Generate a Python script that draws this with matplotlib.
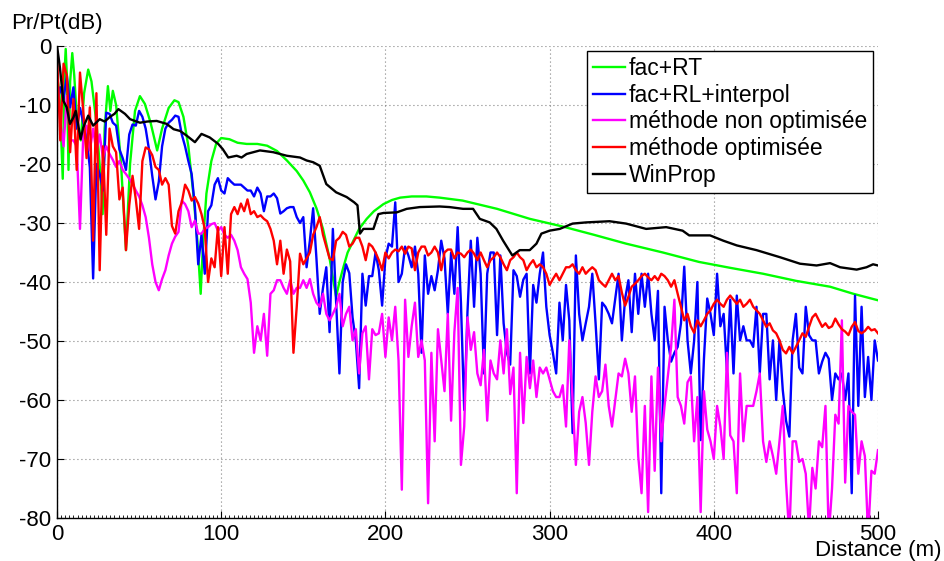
#!/usr/bin/env python3
"""Received power vs distance: comparison of propagation methods."""

import matplotlib
matplotlib.use("Agg")
import matplotlib.pyplot as plt
import numpy as np
from matplotlib.ticker import MultipleLocator

plt.rcParams["font.family"] = ["Liberation Sans", "DejaVu Sans"]
plt.rcParams["axes.unicode_minus"] = False

labels = ["fac+RT", "fac+RL+interpol", "méthode non optimisée",
          "méthode optimisée", "WinProp"]
colors = ["#00ff00", "#0000ff", "#ff00ff", "#ff0000", "#000000"]

# fac+RT (smooth analytic curve), distance in m / level in dB
green_x = [0, 1.5, 3.5, 4.5, 5.3, 6, 7, 8, 9.3, 10.5, 12.5, 14.5, 16.5, 19, 21,
           24, 26.5, 27.8, 29, 31, 32.5, 34, 36, 39, 42, 44.5, 47.5, 50.5, 53.5,
           57, 61, 64, 68, 71.5, 74, 77, 80, 83, 85.5, 87.5, 89, 91, 94, 97,
           100, 105, 110, 115.5, 122, 128, 134, 140, 146, 150, 154, 158, 162,
           166, 170, 172, 174.4, 177, 180.5, 184, 188.6, 193, 198.8, 204, 209,
           216, 225, 233, 247, 268, 288, 308, 327, 346.6, 369, 391, 410, 430,
           450, 470.8, 485, 500]
green_y = [-5, -8, -22.5, -5, -0.5, -5, -21, -6, -1.2, -5, -14, -16, -8, -4, -6,
           -13, -22, -28.5, -14, -6.8, -11, -7.6, -10, -20, -34.6, -20, -11,
           -8.5, -9.8, -13, -17.7, -14, -10.5, -9.2, -9.5, -12, -17, -25, -33,
           -42, -33, -25, -19.5, -16.5, -15.6, -15.8, -16.4, -16.6, -16.6,
           -16.9, -17.8, -19.4, -21.2, -22.8, -24.8, -27.5, -31, -36, -42.5,
           -40, -37.5, -35, -33, -31, -29.3, -28, -26.8, -26.1, -25.7, -25.5,
           -25.5, -25.7, -26.2, -27.6, -29.3, -30.6, -32, -33.5, -35, -36.6,
           -37.6, -38.6, -39.8, -40.8, -42, -43.1]

# WinProp
black_x = [0, 1, 1.8, 3, 3.9, 5.9, 7.9, 10, 11.4, 13, 14.4, 16, 19, 22, 26, 29,
           32.3, 35, 37.4, 41.4, 44.5, 50.5, 55, 60.7, 66.8, 71, 75, 79, 84, 88,
           93, 98.2, 101, 104.3, 109.4, 112.4, 115.5, 123.6, 131.7, 139.9, 148,
           152, 156, 160, 164, 170, 176.4, 181, 183, 184.5, 186.6, 192.7, 195.7,
           198.8, 206.9, 213, 221, 233, 239, 247.3, 253.4, 257.5, 263.5, 267.6,
           271.7, 277.3, 281.8, 287.9, 292, 295, 300, 306.2, 314, 322.2, 336.5,
           346.6, 358.8, 371, 381, 385, 391, 397.7, 405.8, 414, 426, 440.3,
           452.5, 462.6, 470.8, 476.9, 487, 493, 497, 500]
black_y = [0, -2, -3.7, -7, -9.3, -10.4, -13.2, -12.1, -11, -13.5, -15.8, -13.8,
           -11.8, -13.5, -12.4, -12.8, -12, -11.5, -10.7, -11.5, -12.4, -13,
           -12.8, -12.7, -13.2, -14.1, -14.4, -15.2, -16.3, -14.9, -15.5, -16.6,
           -17.5, -18.9, -18.6, -18.9, -18.3, -17.7, -18, -18.6, -18.9, -19.4,
           -19.7, -20.3, -23.4, -24.8, -25.6, -26.5, -27, -31.8, -31, -31,
           -28.5, -28.3, -28.2, -27.6, -27.3, -27.2, -27.3, -27.6, -27.6, -29.3,
           -29.9, -31, -33, -35.5, -34.6, -34.6, -33.5, -31.8, -31.3, -31,
           -30.1, -29.9, -29.7, -30.1, -31, -30.7, -31.3, -32.1, -32.1, -32.1,
           -33, -33.8, -34.6, -35.8, -36.9, -37.2, -36.8, -37.5, -37.9, -37.5,
           -37, -37.2]

# noisy series, one sample every 2 m from 0 to 500 m
blue_y = [
    -10, -7, -9, -5, -10.4, -7, -14, -10.5, -13, -15.5,
    -20.6, -39.4, -20, -21.7, -24.5, -11.3, -11.5, -13, -13.5, -17.5,
    -19, -21, -15, -13.3, -13.5, -11, -12, -14, -17.5, -22,
    -26, -23, -17, -14, -13, -12.5, -11.8, -12,
    -15, -17, -19.5, -21.7, -27.3, -37, -32, -38.6, -28, -27,
    -23.5, -22.4, -24.5, -25, -22.4, -23, -23.5, -23.5, -23.5, -24,
    -24.5, -24.5, -25.5, -24, -25, -28, -25.5, -25.5, -25, -25.8,
    -28.4, -28, -27.5, -27.3, -27.3, -29, -30,
    -29, -37.5, -33, -27.5, -36, -45.4, -41, -37.5, -48.5, -31,
    -43.5, -55.5, -40, -37, -38.5, -46, -50, -58, -38.6, -44,
    -39, -39, -35, -38, -44, -36, -33.5, -34, -26.5, -40,
    -38.6, -34, -35.5, -37.5, -34, -38.6, -52, -35.5, -42, -39,
    -41.4, -38,
    -33, -36, -45.4, -35, -42, -30.7, -43.5, -61.7, -45, -33,
    -44.2, -32.5, -38.6, -55.5, -38.6, -35, -35, -49, -35.5, -47,
    -52, -54, -38, -39, -42.5, -39.6, -38.6, -55.5, -40.5, -43.5,
    -38.6, -35, -44.2, -49, -52, -55.5, -43.5, -49.9, -40.5,
    -46.5, -65.6, -35.5, -45.4, -49.9, -47, -44.2, -38.6, -47, -56.5,
    -43.5, -44.2, -45.4, -47, -42.8, -38.6, -49.9, -42.8, -39.7, -48.5,
    -38.6, -45.4, -38.6, -44.2, -38.6, -45.4, -49.9, -41.5, -75.8, -44.2,
    -49.9, -53.5, -52, -51, -47, -37.4, -49.9, -55.5, -50,
    -40, -66.8, -53, -42.8, -45.4, -49, -38.6, -47.5, -45.4, -55,
    -43, -55.5, -42.3, -49.9, -47.5, -49.9, -49.9, -51, -44.2, -55.5,
    -45.4, -45.4, -56.5, -49.9, -60, -49.9, -58.3, -63.5, -66.2, -49.9,
    -45.4, -54.5, -55.5, -44.2, -49, -49.9, -49.9, -55.5, -53.5, -52,
    -53, -60, -55.5, -56.5, -55.5, -60, -55.5, -75.8, -42.3, -61,
    -44.2, -59.5, -52.7, -60, -49.9, -53.3,
]

magenta_y = [
    -4.8, -12.7, -17, -8.5, -16, -16, -17, -31, -15, -13.5,
    -17.7, -14, -18, -15, -19, -17, -18.3, -19.3, -20.5, -19.5,
    -21, -21.7, -22.5, -23.4, -24.5, -25.5, -27, -29, -32.5, -37,
    -40, -41.4, -39.5, -38, -35.5, -33.5, -32.3, -31.5,
    -26.2, -26.8, -28, -30.7, -29.6, -31.8, -31.8, -31, -30.7, -30.2,
    -30, -31.3, -30.7, -32, -32.5, -32, -33, -34.6, -37.5, -38.6,
    -39.5, -43.5, -52, -47.5, -49.9, -45.4, -52.5, -42, -41.4, -39.7,
    -39.7, -41, -42, -39.7, -42, -41, -41,
    -39.7, -41, -39.5, -42, -43.5, -44.2, -42, -45.4, -46.5, -45.4,
    -44.2, -42, -47.5, -45.4, -44.2, -49.9, -48, -55.5, -48.7, -47.5,
    -56.5, -48, -49, -48.7, -45.4, -52.7, -46, -49.9, -44.2, -53.3,
    -75.2, -43, -52.7, -47.5, -43.5, -52.7, -49.9, -53.3, -77.5, -52,
    -67, -48,
    -53.3, -58.5, -45.4, -63.5, -48.5, -41, -71, -64.5, -46, -51.5,
    -48.5, -55.5, -57.5, -51.5, -63.5, -53.3, -55.5, -56.5, -49.9, -55.5,
    -48, -59, -54.5, -75.8, -52, -63.9, -52.7, -58, -53.3, -59.5,
    -54.5, -55.5, -54.5, -56.5, -58.5, -59.5, -59.5, -57.5, -64.5,
    -49.9, -60, -71, -62, -59.5, -63.9, -71, -62, -56, -59.5,
    -58.5, -54, -61, -64.5, -60, -55.5, -56, -53, -55.5, -62,
    -56, -69.6, -75.8, -61, -79, -56, -72, -54.5, -67, -61,
    -56, -51, -43, -59.5, -61, -64, -57, -56, -67,
    -59.5, -79, -58.5, -65, -67, -70, -61, -64.5, -70, -52,
    -66, -67, -75.8, -55.5, -67, -61, -61, -61, -58.5, -55.5,
    -67, -70.5, -67, -69.5, -72.5, -67, -61, -74, -83, -67,
    -67, -70.5, -70, -72.5, -82, -71.5, -75, -67, -68, -61,
    -83, -75, -62.5, -64, -46.5, -74, -61, -62, -62.5, -72.5,
    -67, -69.5, -83, -72, -72.5, -68.5,
]

red_y = [
    -1, -16, -3, -5, -18, -9, -21, -4.5, -11, -19,
    -10.4, -33, -8, -38, -17, -32, -14, -17, -18, -26,
    -24, -34.6, -27, -22, -26, -31, -19.5, -17.2, -17.5, -18.5,
    -20.5, -21, -23.5, -22.4, -23.5, -30.5, -31.8, -28,
    -26.5, -23.5, -24.5, -26.2, -25.6, -26.7, -28.5, -31, -40, -36,
    -37.5, -30.7, -39, -30.7, -38.6, -28.5, -27.3, -28.5, -26.7, -28,
    -26, -28.5, -28, -29, -28.7, -29.3, -29.7, -31, -33, -37,
    -33, -38.6, -34.5, -36.5, -52, -44.2, -35.2,
    -37, -36, -35, -32, -30.7, -29, -32, -34, -36, -36.3,
    -33, -32.5, -31.5, -32, -34, -33.5, -32.5, -32.5, -34, -36.3,
    -33.5, -34, -35, -36.3, -38, -35, -36, -35, -34.5, -34.8,
    -34, -35.2, -34, -34.3, -38, -35, -34, -34, -35.5, -35,
    -34, -35,
    -38, -35, -34.5, -34.5, -36, -35, -35.2, -35.8, -35, -34.5,
    -35.2, -36.3, -35, -36.3, -37.5, -36.3, -35.8, -35, -35.8, -37,
    -38, -36.3, -35.8, -35, -35.8, -36.3, -38, -37, -36.3, -37.5,
    -37, -37.5, -38.6, -40.5, -39.5, -38.6, -39.7, -38.6, -37.5,
    -37.5, -37, -38, -38.6, -37.5, -38.6, -38, -37.5, -38, -39.7,
    -40.3, -40.8, -39.7, -38.6, -39.7, -39, -41.8, -44, -42.5, -40.8,
    -40.3, -39.7, -39, -38.6, -39.2, -39.7, -39, -39.7, -38.6, -39,
    -39.7, -40.8, -39.7, -42, -44.2, -46.5, -45.4, -47.5, -48.6,
    -46.5, -47.5, -46.5, -45.4, -44.8, -43.7, -43, -43.7, -44.2, -43,
    -42.3, -43, -43.7, -43, -44.2, -43.7, -43, -44.2, -44.8, -45.4,
    -46.5, -47.6, -47, -48.2, -48.7, -49.9, -51.5, -52.1, -51, -52.1,
    -51, -49.9, -48.7, -49.3, -47.6, -46, -45.4, -46.5, -47.6, -47,
    -47.8, -47.5, -46.2, -47.2, -48, -48.4, -49, -47.6, -46.8, -48.3,
    -48.7, -48.3, -47.6, -48.2, -48, -48.7,
]


def main() -> None:
    fig = plt.figure(figsize=(9.45, 5.61), dpi=100)
    ax = fig.add_axes([57 / 945, 43 / 561, 821 / 945, 472 / 561])

    x_noisy = np.linspace(0, 500, len(red_y))
    series = [
        (green_x, green_y),
        (x_noisy, blue_y),
        (x_noisy, magenta_y),
        (x_noisy, red_y),
        (black_x, black_y),
    ]
    for (xs, ys), lab, col in zip(series, labels, colors):
        ax.plot(xs, ys, color=col, lw=1.7, label=lab)

    ax.set_xlim(0, 500)
    ax.set_ylim(-80, 0)
    ax.xaxis.set_major_locator(MultipleLocator(100))
    ax.yaxis.set_major_locator(MultipleLocator(10))
    ax.xaxis.set_minor_locator(MultipleLocator(2.5))
    ax.tick_params(which="major", direction="in", length=5, width=0.8,
                   labelsize=16, pad=4, top=False, right=False)
    ax.tick_params(which="minor", direction="in", length=2.5, width=0.6)
    ax.tick_params(axis="y", which="minor", left=False)

    ax.grid(True, which="major", color="0.4", lw=0.8, linestyle=(0, (0.8, 2.8)))
    ax.spines["top"].set_visible(False)
    ax.spines["right"].set_visible(False)
    for side in ("left", "bottom"):
        ax.spines[side].set_linewidth(1.0)

    leg = ax.legend(loc="upper right", bbox_to_anchor=(0.994, 0.989),
                    borderaxespad=0, fontsize=16.5, frameon=True, fancybox=False,
                    handlelength=1.4, handletextpad=0.18, labelspacing=0.16,
                    borderpad=0.26)
    leg.get_frame().set_edgecolor("black")
    leg.get_frame().set_linewidth(1.0)
    leg.get_frame().set_alpha(1)

    fig.text(11.5 / 945, 1 - 29 / 561, "Pr/Pt(dB)", fontsize=16,
             ha="left", va="baseline")
    fig.text(941.5 / 945, 1 - 556 / 561, "Distance (m)", fontsize=16,
             ha="right", va="baseline")

    fig.savefig("out.png", dpi=100)
    plt.close(fig)


if __name__ == "__main__":
    main()
